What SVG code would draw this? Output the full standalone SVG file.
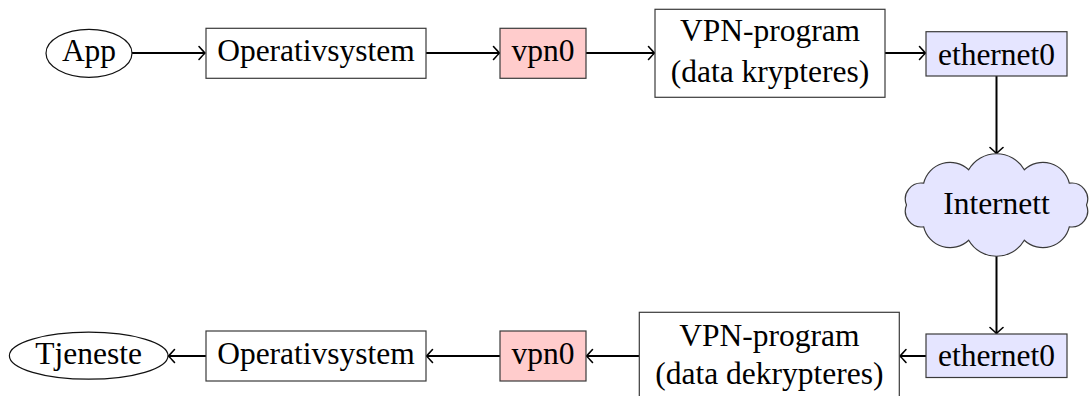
<svg xmlns="http://www.w3.org/2000/svg" width="1089" height="396" viewBox="0 0 1089 396">
  <style>
    text { font-family: "Liberation Serif", "Times New Roman", serif; font-size: 31.5px; fill: #000; text-anchor: middle; }
    .box { fill: #fff; stroke: #3a3a3a; stroke-width: 1.2; }
    .vpn { fill: #ffcccc; stroke: #3a3a3a; stroke-width: 1.2; }
    .eth { fill: #e5e5ff; stroke: #3a3a3a; stroke-width: 1.2; }
    .oval { fill: #fff; stroke: #111; stroke-width: 1.2; }
    .edge { fill: none; stroke: #000; stroke-width: 2; marker-end: url(#tip); }
  </style>
  <defs>
    <marker id="tip" markerUnits="userSpaceOnUse" markerWidth="12" markerHeight="16" viewBox="-9 -8 12 16" refX="0" refY="0" orient="auto">
      <path d="M -6 -6.5 Q -1.5 -1.5 0 0 Q -1.5 1.5 -6 6.5" fill="none" stroke="#000" stroke-width="1.6" stroke-linecap="round"/>
    </marker>
  </defs>

  <!-- connectors -->
  <g id="connectors">
    <line class="edge" x1="132" y1="53" x2="205" y2="53"/>
    <line class="edge" x1="426" y1="53" x2="499.5" y2="53"/>
    <line class="edge" x1="586" y1="53" x2="654.5" y2="53"/>
    <line class="edge" x1="885" y1="53" x2="925.5" y2="53"/>
    <line class="edge" x1="996.5" y1="76" x2="996.5" y2="153.5"/>
    <line class="edge" x1="996.5" y1="256" x2="996.5" y2="333.5"/>
    <line class="edge" x1="926" y1="356" x2="900" y2="356"/>
    <line class="edge" x1="639" y1="356" x2="586.5" y2="356"/>
    <line class="edge" x1="500" y1="356" x2="426.5" y2="356"/>
    <line class="edge" x1="206" y1="356" x2="168.5" y2="356"/>
  </g>

  <!-- sending side -->
  <g id="app">
    <ellipse class="oval" cx="89" cy="53.3" rx="43" ry="24"/>
    <text x="89" y="61">App</text>
  </g>
  <g id="os-send">
    <rect class="box" x="206" y="28.3" width="220" height="50"/>
    <text x="316" y="61">Operativsystem</text>
  </g>
  <g id="vpn0-send">
    <rect class="vpn" x="500" y="28.3" width="86" height="50"/>
    <text x="543" y="61">vpn0</text>
  </g>
  <g id="vpnprog-send">
    <rect class="box" x="655" y="9.3" width="230" height="88"/>
    <text x="770" y="40.5">VPN-program</text>
    <text x="770" y="82">(data krypteres)</text>
  </g>
  <g id="eth0-send">
    <rect class="eth" x="926" y="31.7" width="141" height="44.3"/>
    <text x="996.5" y="64.5">ethernet0</text>
  </g>

  <!-- network -->
  <g id="internett">
    <path class="eth" d="M1086.5,205 A16,16 0 0 0 1069.3,183.2 A27.1,27.1 0 0 0 1024.3,169.8 A32.1,32.1 0 0 0 968.7,169.8 A27.1,27.1 0 0 0 923.7,183.2 A16,16 0 0 0 906.5,205 A16,16 0 0 0 923.7,226.8 A27.1,27.1 0 0 0 968.7,240.2 A32.1,32.1 0 0 0 1024.3,240.2 A27.1,27.1 0 0 0 1069.3,226.8 A16,16 0 0 0 1086.5,205 Z"/>
    <text x="996.5" y="214.3">Internett</text>
  </g>

  <!-- receiving side -->
  <g id="eth0-recv">
    <rect class="eth" x="926" y="334" width="141" height="43.5"/>
    <text x="996.5" y="366">ethernet0</text>
  </g>
  <g id="vpnprog-recv">
    <rect class="box" x="639.3" y="312.3" width="260" height="88"/>
    <text x="769.3" y="345.5">VPN-program</text>
    <text x="769.3" y="383.5">(data dekrypteres)</text>
  </g>
  <g id="vpn0-recv">
    <rect class="vpn" x="500" y="331" width="86" height="50"/>
    <text x="543" y="363.5">vpn0</text>
  </g>
  <g id="os-recv">
    <rect class="box" x="206" y="331" width="220" height="50"/>
    <text x="316" y="363.5">Operativsystem</text>
  </g>
  <g id="tjeneste">
    <ellipse class="oval" cx="88.7" cy="355.7" rx="79.3" ry="23.5"/>
    <text x="88.7" y="363.5">Tjeneste</text>
  </g>
</svg>
